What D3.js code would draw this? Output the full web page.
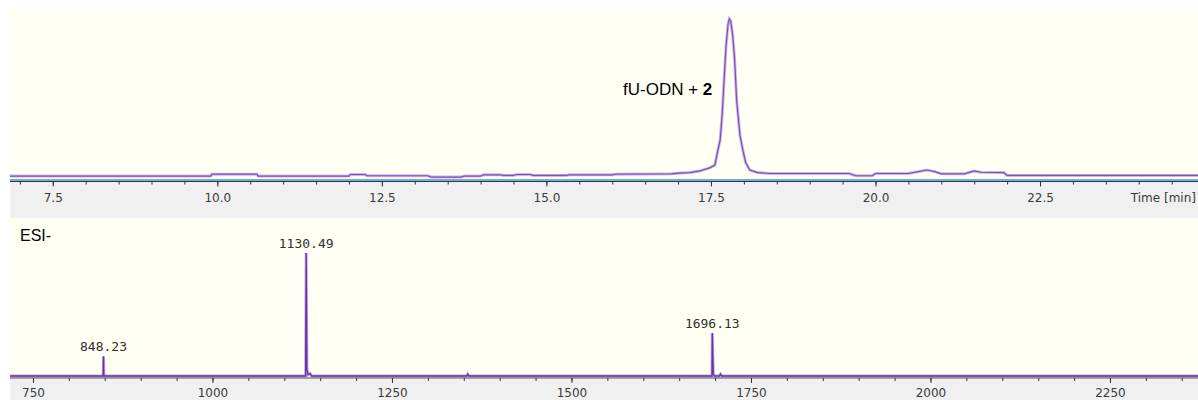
<!DOCTYPE html>
<html>
<head>
<meta charset="utf-8">
<script src="https://cdn.jsdelivr.net/npm/d3@7"></script>
<style>
  body { margin: 0; background: #fff; }
  svg { display: block; }
  .tick text { font-family: "DejaVu Sans", sans-serif; font-size: 12px; fill: #3a3a3a; }
  .tick line { stroke: #333; }
</style>
</head>
<body>
<div id="painting"></div>
<script>
// chromatogram (top) - retention time in min, signal in % of peak
var rtTime = [6.85, 9.9, 9.92, 10.6, 10.62, 12.0, 12.02, 12.25, 12.27, 13.2, 13.25, 13.7, 13.75, 14.0,
  14.05, 14.3, 14.35, 14.5, 14.55, 14.75, 14.8, 15.3, 15.35, 16.0, 16.05, 16.9, 17.0, 17.18, 17.33,
  17.48, 17.56, 17.6, 17.64, 17.67, 17.7, 17.73, 17.76, 17.78, 17.8, 17.83, 17.86, 17.89, 17.94,
  17.99, 18.03, 18.09, 18.21, 18.4, 18.6, 19.6, 19.7, 19.95, 20.0, 20.5, 20.65, 20.78, 20.9, 21.0,
  21.35, 21.5, 21.6, 21.95, 22.0, 24.9];
var rtSignal = [1.2, 1.2, 2.4, 2.4, 1.2, 1.2, 2.2, 2.2, 1.4, 1.4, 0.6, 0.6, 1.2, 1.2,
  2.0, 2.0, 1.6, 1.6, 2.2, 2.2, 1.6, 1.6, 2.0, 2.0, 2.4, 2.6, 3.0, 3.4, 4.4,
  6.3, 8.1, 16.3, 23.8, 39.4, 61.3, 83.1, 96.3, 99.4, 98.1, 89.4, 73.8, 48.8, 26.9,
  16.3, 9.4, 5.0, 3.4, 2.8, 2.8, 2.8, 1.4, 1.4, 2.8, 2.8, 4.0, 5.0, 4.0, 2.6,
  2.6, 4.4, 3.6, 3.4, 1.6, 1.6];
var rtMajor = [7.5, 10.0, 12.5, 15.0, 17.5, 20.0, 22.5];

// ESI- mass spectrum (bottom) - m/z and relative intensity
var msMz = [718, 847.8, 848.23, 848.7, 1129.8, 1130.49, 1131.5, 1133, 1136, 1138, 1354, 1355.5, 1357,
  1695.7, 1696.13, 1697.5, 1699, 1706, 1707.5, 1709, 2373];
var msInt = [0, 0, 16, 0, 0, 100, 6, 1, 2, 0, 0, 1.5, 0,
  0, 35, 1.5, 0, 0, 1.5, 0, 0];
var msPeaks = [848.23, 1130.49, 1696.13];
var msPeakInt = [16, 100, 35];
var msMajor = [750, 1000, 1250, 1500, 1750, 2000, 2250];

var W = 1198, H = 400;
var svg = d3.select("#painting").append("svg")
  .attr("width", W).attr("height", H);

var defs = svg.append("defs");
defs.append("clipPath").attr("id", "clipTop")
  .append("rect").attr("x", 10).attr("y", 11).attr("width", 1188).attr("height", 170);
defs.append("clipPath").attr("id", "clipBot")
  .append("rect").attr("x", 10).attr("y", 218).attr("width", 1188).attr("height", 160);

// panel backgrounds
svg.append("rect").attr("x", 10).attr("y", 11).attr("width", 1188).attr("height", 170).attr("fill", "#fffff4");
svg.append("rect").attr("x", 10).attr("y", 181).attr("width", 1188).attr("height", 37).attr("fill", "#f0f0f0");
svg.append("rect").attr("x", 10).attr("y", 218).attr("width", 1188).attr("height", 159).attr("fill", "#fffff4");
svg.append("rect").attr("x", 10).attr("y", 377).attr("width", 1188).attr("height", 23).attr("fill", "#f0f0f0");

// ---- top: chromatogram
var xTop = d3.scaleLinear().domain([6.85, 24.9]).range([10, 1198]);
var yTop = d3.scaleLinear().domain([0, 100]).range([178, 18]);

var rtData = rtTime.map(function(t, i) { return [t, rtSignal[i]]; });
var lineTop = d3.line()
  .x(function(d) { return xTop(d[0]); })
  .y(function(d) { return yTop(d[1]); });

var gTop = svg.append("g").attr("clip-path", "url(#clipTop)");
gTop.append("path").datum(rtData).attr("d", lineTop)
  .attr("fill", "none").attr("stroke", "#cdb6e6").attr("stroke-width", 3);
gTop.append("path").datum(rtData).attr("d", lineTop)
  .attr("fill", "none").attr("stroke", "#7d4fb8").attr("stroke-width", 1.2);

svg.append("line").attr("x1", 10).attr("x2", W).attr("y1", 180).attr("y2", 180)
  .attr("stroke", "#4a90d8").attr("stroke-width", 1.5);
svg.append("line").attr("x1", 10).attr("x2", W).attr("y1", 181.5).attr("y2", 181.5)
  .attr("stroke", "#2a3a4a").attr("stroke-width", 1);

var axTopMinor = d3.axisBottom(xTop).tickValues(d3.range(7.0, 24.9, 0.5))
  .tickSize(3).tickFormat("").tickSizeOuter(0);
svg.append("g").attr("transform", "translate(0,181.5)").call(axTopMinor)
  .call(function(g) { g.select(".domain").remove(); });
var axTop = d3.axisBottom(xTop).tickValues(rtMajor)
  .tickSize(5).tickPadding(6.5).tickFormat(d3.format(".1f"));
svg.append("g").attr("transform", "translate(0,181.5)").call(axTop)
  .call(function(g) { g.select(".domain").remove(); })
  .selectAll("text").attr("font-family", null).attr("font-size", null);

svg.append("text").attr("x", 1196).attr("y", 201.5).attr("text-anchor", "end")
  .style("font-family", "DejaVu Sans, sans-serif").style("font-size", "12px").attr("fill", "#3a3a3a")
  .text("Time [min]");

var peakLab = svg.append("text").attr("x", 623).attr("y", 95)
  .style("font-family", "Liberation Sans, Arial, sans-serif").style("font-size", "17px").attr("fill", "#000");
peakLab.append("tspan").text("fU-ODN + ");
peakLab.append("tspan").attr("font-weight", "bold").text("2");

// ---- bottom: mass spectrum
var xBot = d3.scaleLinear().domain([718, 2372.6]).range([10, 1198]);
var yBot = d3.scaleLinear().domain([0, 100]).range([376, 253]);

var msData = msMz.map(function(m, i) { return [m, msInt[i]]; });
var lineBot = d3.line()
  .x(function(d) { return xBot(d[0]); })
  .y(function(d) { return yBot(d[1]); });

var gBot = svg.append("g").attr("clip-path", "url(#clipBot)");
gBot.append("path").datum(msData).attr("d", lineBot)
  .attr("fill", "none").attr("stroke", "#c4a8e2").attr("stroke-width", 3);
gBot.append("path").datum(msData).attr("d", lineBot)
  .attr("fill", "none").attr("stroke", "#6a2fa8").attr("stroke-width", 1.3);

svg.selectAll(".mslab").data(msPeaks).enter().append("text")
  .attr("class", "mslab")
  .attr("x", function(d) { return xBot(d); })
  .attr("y", function(d, i) { return yBot(msPeakInt[i]) - 5; })
  .attr("text-anchor", "middle")
  .style("font-family", "DejaVu Sans Mono, monospace").style("font-size", "13px").attr("fill", "#303030")
  .text(function(d) { return d.toFixed(2); });

svg.append("line").attr("x1", 10).attr("x2", W).attr("y1", 378).attr("y2", 378)
  .attr("stroke", "#555").attr("stroke-width", 1);

var axBotMinor = d3.axisBottom(xBot).tickValues(d3.range(750, 2372, 50))
  .tickSize(3).tickFormat("").tickSizeOuter(0);
svg.append("g").attr("transform", "translate(0,378)").call(axBotMinor)
  .call(function(g) { g.select(".domain").remove(); });
var axBot = d3.axisBottom(xBot).tickValues(msMajor)
  .tickSize(5).tickPadding(5).tickFormat(d3.format("d"));
svg.append("g").attr("transform", "translate(0,378)").call(axBot)
  .call(function(g) { g.select(".domain").remove(); })
  .selectAll("text").attr("font-family", null).attr("font-size", null);

svg.append("text").attr("x", 20).attr("y", 241)
  .style("font-family", "Liberation Sans, Arial, sans-serif").style("font-size", "16px").attr("fill", "#000")
  .text("ESI-");
</script>
</body>
</html>
